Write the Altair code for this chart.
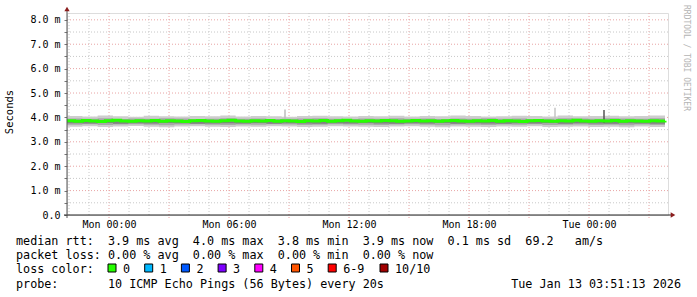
import altair as alt
import pandas as pd

# ---------------- data ----------------
# hours relative to Mon 00:00
x_start, x_end = -2.1, 27.95
data_start, data_end = -2.1, 27.8

median_ms = [
    3.86, 3.84, 3.87, 3.85, 3.83, 3.86, 3.88, 3.85, 3.84, 3.86,
    3.85, 3.87, 3.84, 3.86, 3.85, 3.83, 3.86, 3.87, 3.85, 3.84,
    3.86, 3.88, 3.85, 3.84, 3.86, 3.85, 3.87, 3.84, 3.86, 3.85,
    3.83, 3.86, 3.85, 3.87, 3.84, 3.86, 3.88, 3.85, 3.84, 3.86,
    3.85, 3.87, 3.86, 3.84, 3.85, 3.87, 3.85, 3.86, 3.84, 3.86,
    3.87, 3.85, 3.84, 3.86, 3.85, 3.87, 3.84, 3.86, 3.85, 3.83,
    3.86, 3.87, 3.85, 3.84, 3.86, 3.85, 3.88, 3.85, 3.84, 3.86,
    3.85, 3.87, 3.84, 3.86, 3.85, 3.84, 3.86, 3.85, 3.86,
]

smoke_hi1 = [
    4.06, 4.04, 4.08, 4.05, 4.03, 4.07, 4.05, 4.04, 4.06, 4.05,
    4.08, 4.04, 4.06, 4.05, 4.03, 4.06, 4.07, 4.05, 4.04, 4.06,
    4.05, 4.07, 4.04, 4.06, 4.05, 4.08, 4.06, 4.04, 4.05, 4.07,
    4.06, 4.04, 4.08, 4.05, 4.06, 4.07, 4.05, 4.06, 4.08, 4.05,
]
smoke_lo1 = [
    3.62, 3.64, 3.61, 3.63, 3.65, 3.62, 3.60, 3.63, 3.64, 3.62,
    3.61, 3.63, 3.62, 3.64, 3.63, 3.61, 3.62, 3.64, 3.63, 3.62,
    3.61, 3.63, 3.64, 3.62, 3.60, 3.63, 3.62, 3.61, 3.63, 3.62,
    3.64, 3.61, 3.62, 3.63, 3.61, 3.62, 3.60, 3.63, 3.61, 3.62,
]
smoke_hi2 = [
    3.96, 3.95, 3.97, 3.94, 3.96, 3.95, 3.97, 3.96, 3.94, 3.95,
    3.97, 3.95, 3.96, 3.94, 3.95, 3.96, 3.97, 3.95, 3.94, 3.96,
    3.95, 3.97, 3.95, 3.96, 3.94, 3.96, 3.95, 3.97, 3.95, 3.96,
    3.94, 3.95, 3.97, 3.96, 3.95, 3.97, 3.96, 3.95, 3.97, 3.96,
]
smoke_lo2 = [
    3.70, 3.72, 3.69, 3.71, 3.72, 3.70, 3.68, 3.71, 3.72, 3.70,
    3.69, 3.71, 3.70, 3.72, 3.71, 3.69, 3.70, 3.72, 3.71, 3.70,
    3.69, 3.71, 3.72, 3.70, 3.68, 3.71, 3.70, 3.69, 3.71, 3.70,
    3.72, 3.69, 3.70, 3.71, 3.69, 3.70, 3.68, 3.71, 3.69, 3.70,
]
smoke_hi3 = [
    3.84, 3.83, 3.85, 3.84, 3.82, 3.84, 3.85, 3.83, 3.84, 3.85,
    3.83, 3.84, 3.85, 3.83, 3.84, 3.82, 3.84, 3.85, 3.83, 3.84,
    3.85, 3.83, 3.84, 3.82, 3.84, 3.85, 3.83, 3.84, 3.85, 3.83,
    3.84, 3.82, 3.85, 3.84, 3.83, 3.84, 3.85, 3.83, 3.84, 3.83,
]
smoke_lo3 = [
    3.76, 3.75, 3.77, 3.74, 3.76, 3.75, 3.77, 3.76, 3.74, 3.75,
    3.76, 3.75, 3.77, 3.74, 3.76, 3.75, 3.74, 3.76, 3.75, 3.77,
    3.75, 3.74, 3.76, 3.75, 3.77, 3.74, 3.76, 3.75, 3.74, 3.76,
    3.75, 3.77, 3.74, 3.76, 3.75, 3.74, 3.76, 3.75, 3.74, 3.76,
]

spike_hours = [8.8, 22.3, 24.75]
spike_lo = [3.80, 3.80, 3.78]
spike_hi = [4.32, 4.40, 4.30]
spike_colors = ["#BDBDBD", "#C4C4C4", "#555555"]

x_tick_hours = [0, 6, 12, 18, 24]
x_tick_labels = ["Mon 00:00", "Mon 06:00", "Mon 12:00", "Mon 18:00", "Tue 00:00"]
x_major_grid = [0, 3, 6, 9, 12, 15, 18, 21, 24, 27]
x_minor_grid = [h for h in range(-2, 28) if h % 3 != 0]

y_tick_values = [0, 1, 2, 3, 4, 5, 6, 7, 8]
y_tick_labels = ["0.0  ", "1.0 m", "2.0 m", "3.0 m", "4.0 m", "5.0 m", "6.0 m", "7.0 m", "8.0 m"]
y_minor_grid = [0.5, 1.5, 2.5, 3.5, 4.5, 5.5, 6.5, 7.5]
y_max = 8.28

legend_rows = [
    "median rtt:  3.9 ms avg  4.0 ms max  3.8 ms min  3.9 ms now  0.1 ms sd  69.2   am/s",
    "packet loss: 0.00 % avg  0.00 % max  0.00 % min  0.00 % now",
    "loss color:",
    "probe:       10 ICMP Echo Pings (56 Bytes) every 20s",
]
loss_labels = ["0", "1", "2", "3", "4", "5", "6-9", "10/10"]
loss_colors = ["#26FF00", "#00B8FF", "#0059FF", "#7E00FF", "#FF00FF", "#FF5500", "#FF0000", "#A10000"]
date_text = "Tue Jan 13 03:51:13 2026"
watermark = "RRDTOOL / TOBI OETIKER"
y_title = "Seconds"

# ---------------- tables ----------------
n_med = len(median_ms)
med_df = pd.DataFrame({
    "h": [data_start + i * (data_end - data_start) / (n_med - 1) for i in range(n_med)],
    "v": median_ms,
})
n_sm = len(smoke_hi1)
smoke_df = pd.DataFrame({
    "h": [data_start + i * (data_end - data_start) / (n_sm - 1) for i in range(n_sm)],
    "lo1": smoke_lo1, "hi1": smoke_hi1,
    "lo2": smoke_lo2, "hi2": smoke_hi2,
    "lo3": smoke_lo3, "hi3": smoke_hi3,
})
spike_df = pd.DataFrame({"h": spike_hours, "lo": spike_lo, "hi": spike_hi, "c": spike_colors})

# ---------------- layout constants ----------------
W, H = 601, 202
PL, PT = 67, 13
FONT = "DejaVu Sans Mono"
NB = "\u00a0"

xs = alt.Scale(domain=[x_start, x_end], nice=False, zero=False)
ys = alt.Scale(domain=[0, y_max], nice=False, zero=False)

def nb(s):
    return s.replace(" ", NB)

x_label_expr = "".join(
    f"datum.value=={h}?'{lab}':" for h, lab in zip(x_tick_hours, x_tick_labels)
) + "''"
y_label_expr = "".join(
    f"datum.value=={v}?'{nb(lab)}':" for v, lab in zip(y_tick_values, y_tick_labels)
) + "''"

x_axis = alt.Axis(
    values=x_major_grid, labelExpr=x_label_expr, domain=False, grid=False,
    ticks=False, labelFont=FONT, labelFontSize=10, labelColor="#000000",
    labelPadding=4, labelAngle=0, labelFlush=False, labelOverlap=False, title=None,
)
y_axis = alt.Axis(
    values=y_tick_values + y_minor_grid, labelExpr=y_label_expr, domain=False,
    grid=False, ticks=True, tickSize=3, tickColor="#777777", labelFont=FONT,
    labelFontSize=10, labelColor="#000000", labelPadding=4,
    labelAlign="right", labelBaseline="middle", labelOverlap=False, title=None,
)

def X(f):
    return alt.X(f, scale=xs, axis=x_axis)

def Y(f):
    return alt.Y(f, scale=ys, axis=y_axis)

one = alt.Data(values=[{}])

grid_minor_v = alt.Chart(pd.DataFrame({"h": x_minor_grid})).mark_rule(
    color="#C8C8C8", strokeDash=[1, 2], strokeWidth=1
).encode(x=X("h:Q"), y=alt.value(0), y2=alt.value(H))

grid_major_v = alt.Chart(pd.DataFrame({"h": x_major_grid})).mark_rule(
    color="#E8A4A4", strokeDash=[1, 2], strokeWidth=1
).encode(x=X("h:Q"), y=alt.value(0), y2=alt.value(H + 3))

grid_minor_h = alt.Chart(pd.DataFrame({"v": y_minor_grid})).mark_rule(
    color="#C8C8C8", strokeDash=[1, 2], strokeWidth=1
).encode(y=Y("v:Q"), x=alt.value(0), x2=alt.value(W))

grid_major_h = alt.Chart(pd.DataFrame({"v": y_tick_values[1:]})).mark_rule(
    color="#E8A4A4", strokeDash=[1, 2], strokeWidth=1
).encode(y=Y("v:Q"), x=alt.value(0), x2=alt.value(W))

smoke1 = alt.Chart(smoke_df).mark_area(color="#CDCDCD", interpolate="step-after").encode(
    x=X("h:Q"), y=Y("lo1:Q"), y2="hi1:Q")
smoke2 = alt.Chart(smoke_df).mark_area(color="#A8A8A8", interpolate="step-after").encode(
    x=X("h:Q"), y=Y("lo2:Q"), y2="hi2:Q")
smoke3 = alt.Chart(smoke_df).mark_area(color="#808080", interpolate="step-after").encode(
    x=X("h:Q"), y=Y("lo3:Q"), y2="hi3:Q")

spikes = alt.Chart(spike_df).mark_rule(strokeWidth=1.5).encode(
    x=X("h:Q"), y=Y("lo:Q"), y2="hi:Q",
    color=alt.Color("c:N", scale=None),
)

median_line = alt.Chart(med_df).mark_line(
    color="#26FF00", strokeWidth=3, interpolate="step-after"
).encode(x=X("h:Q"), y=Y("v:Q"))

ARROW = "#8B1E1E"
axis_x_line = alt.Chart(one).mark_rule(color="#222222", strokeWidth=1).encode(
    x=alt.value(-3), x2=alt.value(W + 3), y=alt.value(H))
axis_y_line = alt.Chart(one).mark_rule(color="#555555", strokeWidth=1).encode(
    x=alt.value(0), y=alt.value(H + 3), y2=alt.value(-3))
arrow_x = alt.Chart(one).mark_point(shape="triangle-right", filled=True, size=28,
                                    color=ARROW, opacity=1).encode(
    x=alt.value(W + 5), y=alt.value(H))
arrow_y = alt.Chart(one).mark_point(shape="triangle-up", filled=True, size=28,
                                    color=ARROW, opacity=1).encode(
    x=alt.value(0), y=alt.value(-4))

def txt(s, X_, Y_, size=11.75, align="left", angle=0, color="#000000", baseline="middle"):
    kw = dict(text=nb(s), font=FONT, fontSize=size, align=align,
              baseline=baseline, color=color)
    if angle:
        kw["angle"] = angle
    return alt.Chart(one).mark_text(**kw).encode(
        x=alt.value(X_ - PL), y=alt.value(Y_ - PT))

row_y = [241, 255, 268.5, 283.5]
texts = [txt(s, 16, y) for s, y in zip(legend_rows, row_y)]
texts.append(txt(date_text, 681, row_y[3], align="right"))
texts.append(txt(y_title, 10, 112, size=10.5, align="center", angle=270))
texts.append(txt(watermark, 686, 5, size=8, align="left", angle=90, color="#B4B4B4"))

sq_left = [108 + 36.7 * i for i in range(7)] + [380]
lab_left = [l + 15 for l in sq_left]
for c, l in zip(loss_colors, sq_left):
    texts.append(
        alt.Chart(one).mark_square(size=64, color=c, stroke="#000000", strokeWidth=1,
                                    opacity=1, filled=True).encode(
            x=alt.value(l + 4 - PL), y=alt.value(268 - PT))
    )
for lab, l in zip(loss_labels, lab_left):
    texts.append(txt(lab, l, row_y[2]))

chart = alt.layer(
    grid_minor_v, grid_major_v, grid_minor_h, grid_major_h,
    smoke1, smoke2, smoke3, spikes, median_line,
    axis_x_line, axis_y_line, arrow_x, arrow_y, *texts,
).properties(
    width=W, height=H,
    padding={"left": PL, "top": PT, "right": 697 - PL - W, "bottom": 297 - PT - H},
    autosize=alt.AutoSizeParams(type="none"),
).configure_view(stroke=None).configure(background="#FFFFFF")

chart.save("out.html", embed_options={"renderer": "svg", "actions": False})
